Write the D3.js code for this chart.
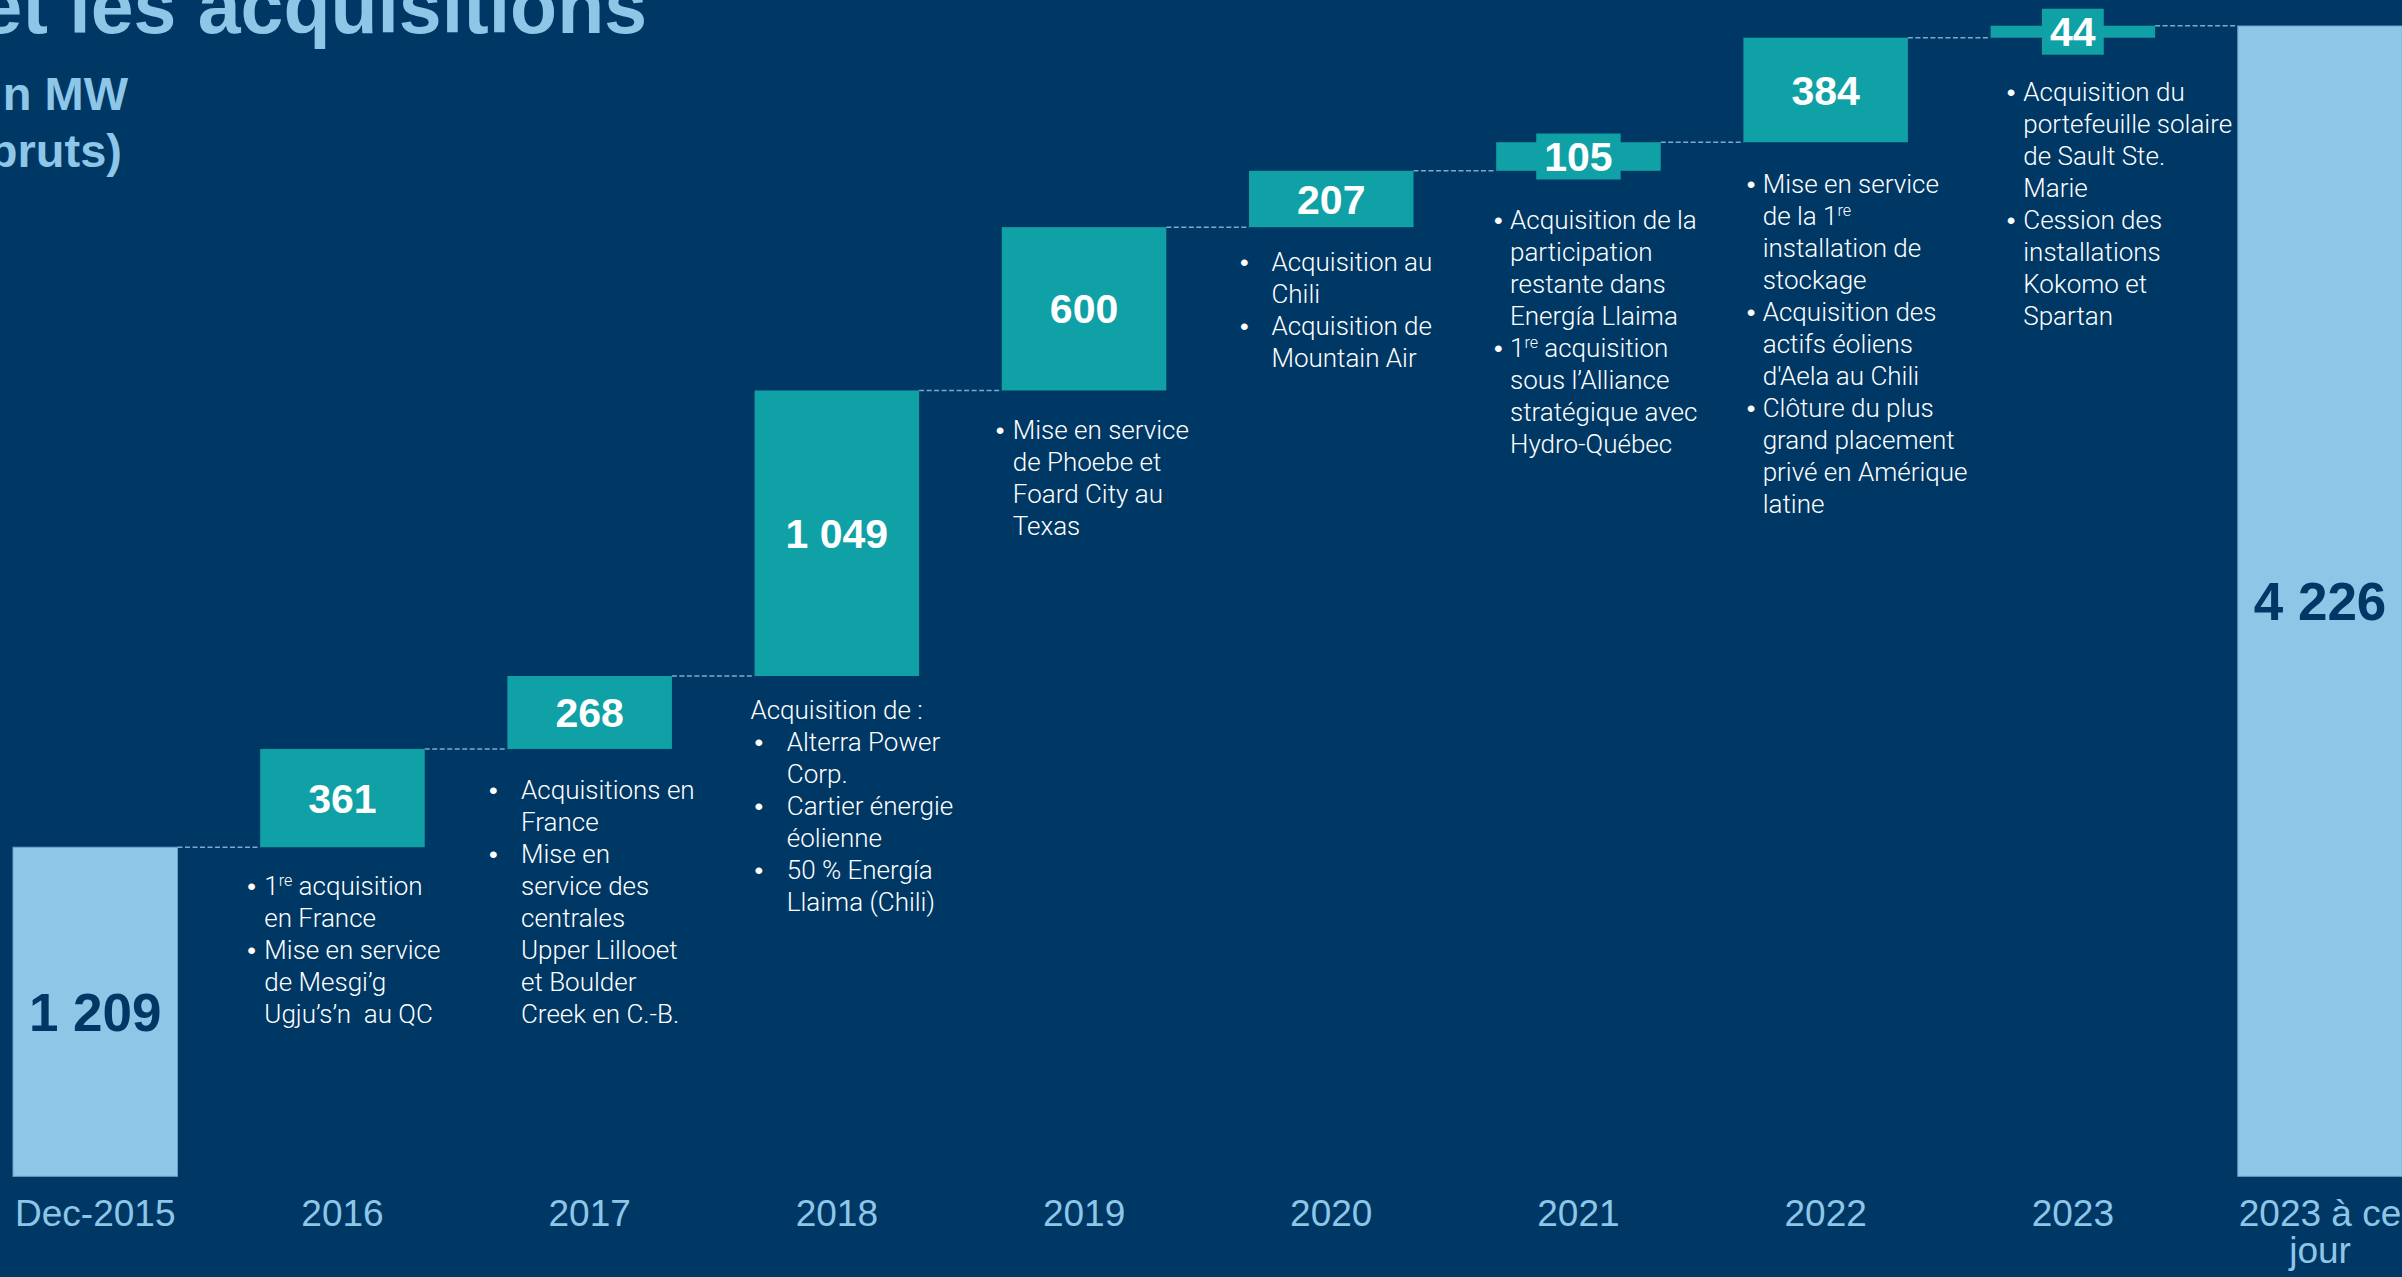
<!DOCTYPE html>
<html><head><meta charset="utf-8">
<script src="https://cdn.jsdelivr.net/npm/d3@7/dist/d3.min.js"></script>
<style>
html,body{margin:0;padding:0;background:#003865;overflow:hidden;}
svg{display:block;}
text{font-family:"Liberation Sans",Arial,Helvetica,sans-serif;}
</style></head><body>
<svg id="chart" width="2402" height="1277"></svg>
<script>
// ---------- data ----------
const categories = ["Dec-2015","2016","2017","2018","2019","2020","2021","2022","2023","2023 à ce jour"];
const values     = [1209, 361, 268, 1049, 600, 207, 105, 384, 44, 4226];
const kinds      = ["total","increase","increase","increase","increase","increase","increase","increase","increase","total"];
const tickLines  = [["Dec-2015"],["2016"],["2017"],["2018"],["2019"],["2020"],["2021"],["2022"],["2023"],["2023 à ce","jour"]];
const titleText  = "et les acquisitions";
const subtitleLines = ["n MW","(bruts)"];

// annotations: heading (optional) and bulleted items (each item = array of lines, "^...|" marks superscript)
const annotations = [
  {cat:"2016", heading:null, items:[["1^re| acquisition","en France"],["Mise en service","de Mesgi’g","Ugju’s’n  au QC"]]},
  {cat:"2017", heading:null, items:[["Acquisitions en","France"],["Mise en","service des","centrales","Upper Lillooet","et Boulder","Creek en C.-B."]]},
  {cat:"2018", heading:"Acquisition de :", items:[["Alterra Power","Corp."],["Cartier énergie","éolienne"],["50 % Energía","Llaima (Chili)"]]},
  {cat:"2019", heading:null, items:[["Mise en service","de Phoebe et","Foard City au","Texas"]]},
  {cat:"2020", heading:null, items:[["Acquisition au","Chili"],["Acquisition de","Mountain Air"]]},
  {cat:"2021", heading:null, items:[["Acquisition de la","participation","restante dans","Energía Llaima"],["1^re| acquisition","sous l’Alliance","stratégique avec","Hydro-Québec"]]},
  {cat:"2022", heading:null, items:[["Mise en service","de la 1^re|","installation de","stockage"],["Acquisition des","actifs éoliens","d'Aela au Chili"],["Clôture du plus","grand placement","privé en Amérique","latine"]]},
  {cat:"2023", heading:null, items:[["Acquisition du","portefeuille solaire","de Sault Ste.","Marie"],["Cession des","installations","Kokomo et","Spartan"]]}
];

// ---------- layout / style ----------
const W = 2402, H = 1277;
const BG = "#003865", TEAL = "#10A1A7", LIGHT = "#8EC6E8", CONNECT = "#7EA8CF";
const annoLayout = {
  "2016": {bx:-12.9, tx:4.1,  dy:47.3},
  "2017": {bx:-18.4, tx:13.6, dy:50.5},
  "2018": {hx:-4.2, bx:0,    tx:32.2, dy:43},
  "2019": {bx:-6,    tx:11,   dy:49},
  "2020": {bx:-9,    tx:22.4, dy:43.5},
  "2021": {bx:-2.2,  tx:13.8, dy:58.6},
  "2022": {bx:3.3,   tx:19.3, dy:50.5},
  "2023": {bx:16.1,  tx:32.7, dy:63.4}
};
const LINE_H = 32;
const ANNO_FONT = "Roboto, 'Liberation Sans', Arial, sans-serif";

const fmt = d3.formatLocale({decimal:",", thousands:"\u00a0", grouping:[3], currency:["","$"]}).format(",d");

const svg = d3.select("#chart");
svg.append("rect").attr("width", W).attr("height", H).attr("fill", BG);

const x = d3.scaleBand().domain(categories).range([13, 2402.3]).paddingInner(0.3345).paddingOuter(0);
const y = d3.scaleLinear().domain([0, 4226]).range([1176.3, 26]);
const bw = x.bandwidth();

// compute waterfall
let cum = 0;
const bars = categories.map((c, i) => {
  let y0, y1;
  if (kinds[i] === "total") { y0 = 0; y1 = values[i]; cum = values[i]; }
  else { y0 = cum; y1 = cum + values[i]; cum = y1; }
  return {cat:c, value:values[i], kind:kinds[i], y0, y1};
});

// connectors
const conn = svg.append("g");
for (let i = 0; i < bars.length - 1; i++) {
  const yy = y(bars[i].y1);
  conn.append("line")
    .attr("x1", x(bars[i].cat) + bw).attr("x2", x(bars[i+1].cat))
    .attr("y1", yy).attr("y2", yy)
    .attr("stroke", CONNECT).attr("stroke-width", 1.5).attr("stroke-dasharray", "5,2.5");
}

// bars
svg.append("g").selectAll("rect").data(bars).join("rect")
  .attr("x", d => x(d.cat))
  .attr("width", bw)
  .attr("y", d => y(d.y1))
  .attr("height", d => y(d.y0) - y(d.y1))
  .attr("fill", d => d.kind === "total" ? LIGHT : TEAL)
  .attr("stroke", d => d.kind === "total" ? "#6E9FCB" : "none")
  .attr("stroke-width", 1);

// value labels
const lg = svg.append("g");
bars.forEach(d => {
  const cx = x(d.cat) + bw / 2;
  const cy = (y(d.y0) + y(d.y1)) / 2;
  const isTotal = d.kind === "total";
  const g = lg.append("g");
  const t = g.append("text")
    .attr("x", cx).attr("y", cy).attr("dy", "0.358em")
    .attr("text-anchor", "middle")
    .attr("font-weight", "bold")
    .attr("font-size", isTotal ? 53 : 41)
    .attr("fill", isTotal ? BG : "#ffffff")
    .text(fmt(d.value));
  const bb = t.node().getBBox();
  const barH = y(d.y0) - y(d.y1);
  if (!isTotal && barH < bb.height) {
    g.insert("rect", "text")
      .attr("x", cx - bb.width / 2 - 8).attr("width", bb.width + 16)
      .attr("y", cy - bb.height / 2).attr("height", bb.height)
      .attr("fill", TEAL);
  }
});

// x axis
const axis = svg.append("g").attr("transform", `translate(0,${y(0)})`)
  .call(d3.axisBottom(x).tickSize(0).tickPadding(0));
axis.select(".domain").remove();
axis.selectAll(".tick text").each(function(d) {
  const i = categories.indexOf(d);
  const t = d3.select(this);
  t.text(null).attr("y", 50).attr("dy", null)
    .attr("font-size", 37).attr("fill", LIGHT)
    .attr("font-family", "'Liberation Sans', Arial, sans-serif");
  tickLines[i].forEach((ln, k) => {
    t.append("tspan").attr("x", 0).attr("dy", k === 0 ? 0 : 37).text(ln);
  });
});

// annotations
const ag = svg.append("g").attr("fill", "#ffffff").attr("font-size", 26)
  .style("font-family", ANNO_FONT).attr("font-weight", 300);
function addLine(xPos, yPos, str) {
  const t = ag.append("text").attr("x", xPos).attr("y", yPos).style("white-space", "pre")
    .style("font-family", ANNO_FONT);
  const parts = str.split(/(\^[^|]*\|)/).filter(s => s.length);
  let raised = false;
  parts.forEach(p => {
    if (p.startsWith("^")) {
      t.append("tspan").attr("font-size", 16).attr("dy", -9).text(p.slice(1, -1));
      raised = true;
    } else {
      const ts = t.append("tspan").text(p);
      if (raised) { ts.attr("dy", 9); raised = false; }
    }
  });
}
annotations.forEach(a => {
  const L = annoLayout[a.cat];
  const bar = bars.find(b => b.cat === a.cat);
  const x0 = x(a.cat);
  let yy = y(bar.y0) + L.dy;
  if (a.heading) {
    addLine(x0 + L.hx, yy, a.heading);
    yy += LINE_H;
  }
  a.items.forEach(item => {
    ag.append("text").attr("x", x0 + L.bx).attr("y", yy).attr("font-size", 24.7)
      .style("font-family", "'Liberation Sans', Arial, sans-serif").text("•");
    item.forEach(ln => { addLine(x0 + L.tx, yy, ln); yy += LINE_H; });
  });
});

// title and subtitle (cut at the left edge as in the source slide)
svg.append("text").attr("x", 647).attr("y", 33).attr("text-anchor", "end")
  .attr("font-size", 77).attr("font-weight", "bold").attr("fill", LIGHT).text(titleText);
svg.append("text").attr("x", 128).attr("y", 110).attr("text-anchor", "end")
  .attr("font-size", 47).attr("font-weight", "bold").attr("fill", LIGHT).text(subtitleLines[0]);
svg.append("text").attr("x", 122).attr("y", 167).attr("text-anchor", "end")
  .attr("font-size", 47).attr("font-weight", "bold").attr("fill", LIGHT).text(subtitleLines[1]);
</script>
</body></html>
